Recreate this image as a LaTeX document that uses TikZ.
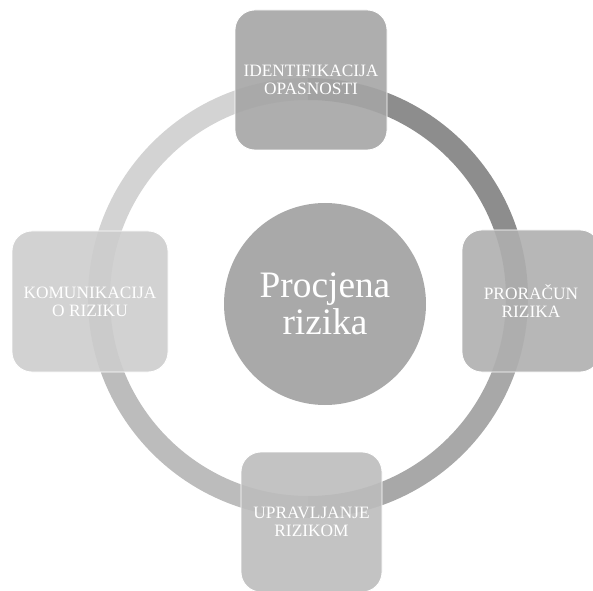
\documentclass[tikz,border=0pt]{standalone}
\usepackage{fontspec}
\setmainfont{Liberation Serif}
\usepackage{tikz}
\usetikzlibrary{positioning}
\definecolor{gA}{HTML}{A5A5A5}
\definecolor{gB}{HTML}{AFAFAF}
\definecolor{gC}{HTML}{BDBDBD}
\definecolor{gD}{HTML}{CDCDCD}
\definecolor{gHub}{HTML}{A9A9A9}
\definecolor{arcTL}{HTML}{D3D3D3}
\definecolor{arcBL}{HTML}{BCBCBC}
\definecolor{arcBR}{HTML}{A8A8A8}
\definecolor{arcTR}{HTML}{8D8D8D}
\tikzset{
  stagebox/.style={rectangle, rounded corners=15pt, draw=white, line width=0.6pt,
    fill opacity=0.9, text opacity=1, text=white, align=center,
    font=\fontsize{13pt}{13.5pt}\selectfont, inner sep=2pt},
  ringarc/.style={line width=16.5pt},
  hubnode/.style={circle, fill=gHub, text=white, align=center,
    minimum size=151.5pt, inner sep=0pt, font=\fontsize{28pt}{28pt}\selectfont}
}

\begin{document}
\begin{tikzpicture}[x=0.75pt, y=0.75pt]

  \useasboundingbox (0,0) rectangle (593,590);
  \clip (0,0) rectangle (593,590);

  \newcommand\Rm{209};
  \coordinate (ring) at (308,292);

  % ring segments
  \draw[ringarc, arcTL] (ring) ++(90:\Rm) arc (90:180:\Rm);
  \draw[ringarc, arcBL] (ring) ++(180:\Rm) arc (180:270:\Rm);
  \draw[ringarc, arcBR] (ring) ++(270:\Rm) arc (270:360:\Rm);
  \draw[ringarc, arcTR] (ring) ++(0:\Rm) arc (0:90:\Rm);

  \node[hubnode] (hub) at (325,286) {Procjena\\rizika};

  \node[stagebox, fill=gA, minimum width=114pt, minimum height=105pt] (ident) at (311,510) {IDENTIFIKACIJA\\OPASNOSTI};
  \node[stagebox, fill=gB, minimum width=103.5pt, minimum height=106.5pt] (racun) at (531,289) {PRORAČUN\\RIZIKA};
  \node[stagebox, fill=gC, minimum width=105.75pt, minimum height=105pt] (uprav) at (311.5,68) {UPRAVLJANJE\\RIZIKOM};
  \node[stagebox, fill=gD, minimum width=117pt, minimum height=105.75pt] (komun) at (90,288.5) {KOMUNIKACIJA\\O RIZIKU};

\end{tikzpicture}
\end{document}
